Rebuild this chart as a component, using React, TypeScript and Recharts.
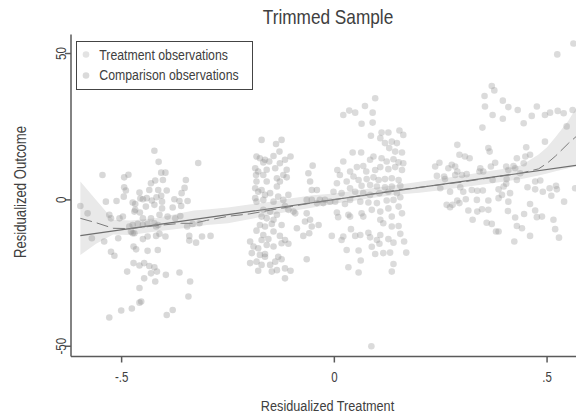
import React from 'react';
import { ComposedChart, Scatter, Line, Area, XAxis, YAxis, Legend } from 'recharts';

const chartTitle = 'Trimmed Sample';
const xTitle = 'Residualized Treatment';
const yTitle = 'Residualized Outcome';
const seriesNames = ['Treatment observations', 'Comparison observations'];
const xTicks = [-0.5, 0, 0.5];
const xTickLabels = ['-.5', '0', '.5'];
const yTicks = [-50, 0, 50];
const yTickLabels = ['-50', '0', '50'];

// Comparison observations [x, y]
const comparisonPoints: [number, number][] = [
  [-0.423, 16.8], [-0.413, 13.0], [-0.320, 12.6], [-0.545, 8.5], [-0.494, 7.7], [-0.484, 8.6], [-0.407, 9.3], [-0.397, 9.3],
  [-0.349, 6.8], [-0.431, 5.7], [-0.421, 6.6], [-0.403, 6.8], [-0.494, 4.3], [-0.490, 3.2], [-0.435, 3.4], [-0.414, 3.4],
  [-0.394, 3.2], [-0.458, 2.5], [-0.495, 1.1], [-0.359, 2.3], [-0.352, 4.1], [-0.537, -0.6], [-0.512, -0.4], [-0.474, -0.9],
  [-0.468, -1.4], [-0.456, 0.5], [-0.450, 0.2], [-0.441, 0.6], [-0.429, -0.2], [-0.418, 0.9], [-0.407, 1.4], [-0.405, -0.6],
  [-0.376, 0.2], [-0.364, -0.4], [-0.345, -0.4], [-0.468, -3.4], [-0.443, -2.3], [-0.423, -1.7], [-0.405, -2.9], [-0.380, -2.6],
  [-0.360, -2.1], [-0.597, -2.1], [-0.580, -4.6], [-0.529, -5.1], [-0.525, -6.3], [-0.505, -6.3], [-0.497, -5.7], [-0.470, -4.0],
  [-0.457, -4.3], [-0.450, -6.3], [-0.431, -6.3], [-0.411, -5.1], [-0.392, -5.7], [-0.374, -6.3], [-0.362, -5.5], [-0.474, -8.6],
  [-0.462, -8.2], [-0.450, -8.6], [-0.439, -8.2], [-0.423, -8.0], [-0.482, -9.1], [-0.478, -10.8], [-0.470, -11.4], [-0.419, -9.1],
  [-0.414, -8.6], [-0.346, -9.1], [-0.333, -8.2], [-0.317, -8.0], [-0.570, -13.1], [-0.541, -14.2], [-0.508, -13.1], [-0.474, -11.4],
  [-0.450, -13.4], [-0.439, -12.5], [-0.419, -12.3], [-0.411, -11.6], [-0.397, -12.5], [-0.341, -12.3], [-0.341, -13.9], [-0.325, -14.6],
  [-0.311, -12.5], [-0.291, -12.3], [-0.472, -15.9], [-0.466, -16.9], [-0.439, -17.4], [-0.415, -17.1], [-0.525, -17.7], [-0.517, -19.1],
  [-0.472, -21.6], [-0.458, -22.4], [-0.447, -21.6], [-0.435, -22.6], [-0.423, -23.0], [-0.417, -24.5], [-0.431, -25.1], [-0.487, -24.5],
  [-0.396, -25.6], [-0.364, -24.8], [-0.447, -26.8], [-0.421, -27.9], [-0.339, -27.9], [-0.458, -30.1], [-0.343, -33.0], [-0.458, -35.1],
  [-0.454, -34.7], [-0.476, -37.1], [-0.501, -37.8], [-0.529, -40.2], [-0.394, -39.3], [-0.380, -37.6],
  [-0.171, 20.5], [-0.137, 19.1], [-0.124, 20.5], [-0.129, 16.5], [-0.143, 15.0], [-0.183, 14.8], [-0.175, 14.2], [-0.163, 13.7],
  [-0.153, 13.1], [-0.167, 12.8], [-0.186, 10.8], [-0.179, 9.7], [-0.159, 10.3], [-0.139, 10.8], [-0.128, 12.5], [-0.116, 13.7],
  [-0.103, 14.8], [-0.112, 10.3], [-0.120, 8.5], [-0.135, 7.4], [-0.167, 8.5], [-0.184, 8.5], [-0.183, 6.3], [-0.159, 6.3],
  [-0.128, 6.3], [-0.112, 7.7], [-0.186, 4.0], [-0.179, 2.8], [-0.171, 3.4], [-0.163, 1.7], [-0.151, 2.3], [-0.135, 4.6],
  [-0.132, 1.1], [-0.120, 0.0], [-0.108, 1.7], [-0.186, 0.6], [-0.183, -0.6], [-0.167, 0.0], [-0.143, -0.6], [-0.116, -2.1],
  [-0.108, -3.4], [-0.096, -4.0], [-0.167, -3.4], [-0.151, -4.0], [-0.135, -5.1], [-0.171, -5.7], [-0.159, -6.3], [-0.143, -6.8],
  [-0.175, -8.6], [-0.163, -9.1], [-0.147, -8.2], [-0.124, -8.6], [-0.183, -10.5], [-0.167, -12.0], [-0.143, -10.8], [-0.171, -13.7],
  [-0.155, -13.4], [-0.128, -12.3], [-0.108, -15.0], [-0.116, -13.7], [-0.198, -14.2], [-0.190, -15.9], [-0.179, -16.5], [-0.159, -15.4],
  [-0.143, -15.9], [-0.124, -14.8], [-0.194, -18.2], [-0.175, -18.8], [-0.163, -19.4], [-0.132, -19.4], [-0.198, -21.6], [-0.183, -21.1],
  [-0.171, -22.2], [-0.151, -22.2], [-0.139, -21.1], [-0.124, -20.3], [-0.179, -24.2], [-0.147, -24.5], [-0.116, -23.4], [-0.103, -24.2],
  [-0.116, -26.8], [-0.135, -24.0], [-0.163, -18.5],
  [-0.061, 9.1], [-0.051, 11.7], [-0.057, 6.3], [-0.053, 3.4], [-0.041, 3.4], [-0.065, 0.0], [-0.053, 0.0], [-0.041, -1.1],
  [-0.034, 0.0], [-0.022, 0.0], [-0.010, -0.6], [-0.065, -4.6], [-0.057, -6.8], [-0.069, -7.4], [-0.053, -9.1], [-0.037, -8.6],
  [-0.088, -9.7], [-0.073, -12.3], [-0.059, -11.4], [-0.065, -20.3], [-0.026, -1.1], [-0.092, -4.6],
];

// Treatment observations [x, y]
const treatmentPoints: [number, number][] = [
  [0.096, 34.7], [0.021, 29.0], [0.035, 30.5], [0.049, 29.8], [0.072, 32.1], [0.090, 29.8], [0.064, 26.0], [0.090, 26.4],
  [0.086, 21.9], [0.111, 23.0], [0.127, 23.0], [0.153, 23.7], [0.162, 22.2], [0.108, 21.1], [0.119, 19.4], [0.135, 19.9],
  [0.147, 19.4], [0.129, 17.7], [0.143, 16.5], [0.159, 16.2], [0.043, 16.2], [0.063, 16.2], [0.021, 13.1], [0.084, 13.7],
  [0.092, 14.8], [0.111, 14.2], [0.123, 13.1], [0.139, 13.9], [0.151, 12.8], [0.162, 12.5], [0.053, 11.2], [0.068, 11.6],
  [0.007, 10.2], [0.013, 8.5], [0.037, 9.7], [0.045, 8.0], [0.075, 9.7], [0.096, 10.2], [0.108, 11.2], [0.127, 10.5],
  [0.143, 11.2], [0.159, 10.2], [0.057, 6.8], [0.076, 7.1], [0.092, 7.7], [0.104, 6.8], [0.119, 7.1], [0.135, 7.4],
  [0.151, 6.8], [0.006, 5.7], [0.029, 6.3], [0.037, 4.0], [0.064, 4.8], [0.084, 5.1], [0.100, 4.6], [0.119, 4.3],
  [0.135, 4.6], [0.155, 4.8], [-0.002, 2.8], [0.017, 2.3], [0.049, 2.8], [0.068, 2.3], [0.084, 1.7], [0.106, 2.3],
  [0.127, 2.8], [0.147, 2.3], [0.002, -0.6], [0.025, -1.4], [0.037, 0.0], [0.061, -0.6], [0.080, -0.9], [0.100, -1.1],
  [0.123, -0.2], [0.139, 0.0], [0.155, 0.9], [0.006, -4.3], [0.033, -5.1], [0.064, -4.6], [0.088, -3.4], [0.108, -4.0],
  [0.127, -2.9], [0.151, -2.3], [0.159, -4.6], [0.009, -5.9], [0.037, -5.7], [0.068, -5.7], [0.108, -6.8], [0.135, -5.7],
  [0.115, -8.0], [0.135, -9.1], [0.151, -8.9], [0.155, -11.6], [0.039, -10.0], [0.080, -11.2], [0.108, -12.0], [-0.006, -12.3],
  [0.021, -12.5], [0.049, -12.3], [0.061, -12.0], [0.084, -12.8], [0.100, -13.7], [0.106, -15.0], [0.127, -13.4], [0.139, -14.6],
  [0.164, -14.2], [0.017, -13.7], [0.029, -17.1], [0.057, -17.3], [0.088, -16.0], [0.096, -18.5], [0.115, -18.2], [0.131, -18.0],
  [0.169, -18.0], [0.033, -23.0], [0.057, -24.8], [0.062, -20.7], [0.135, -24.5], [0.139, -21.9], [0.087, -50.0],
  [0.370, 38.9], [0.376, 37.4], [0.353, 35.5], [0.396, 33.9], [0.354, 31.9], [0.409, 31.7], [0.431, 30.7], [0.476, 31.9],
  [0.372, 29.0], [0.396, 27.7], [0.464, 28.7], [0.495, 29.0], [0.507, 29.8], [0.525, 30.4], [0.539, 29.6], [0.560, 30.7],
  [0.348, 24.7], [0.445, 26.2], [0.546, 25.1], [0.289, 18.8], [0.362, 17.7], [0.365, 16.5], [0.495, 19.9], [0.451, 18.0],
  [0.294, 15.4], [0.307, 14.8], [0.318, 14.2], [0.378, 12.7], [0.429, 14.2], [0.449, 14.8], [0.460, 15.4], [0.247, 12.7],
  [0.237, 11.4], [0.268, 10.8], [0.276, 12.0], [0.284, 11.4], [0.289, 9.7], [0.343, 10.8], [0.368, 11.4], [0.404, 11.4],
  [0.421, 11.6], [0.445, 12.5], [0.241, 8.2], [0.258, 8.0], [0.284, 8.5], [0.300, 8.5], [0.311, 8.8], [0.341, 9.7],
  [0.350, 9.7], [0.409, 10.2], [0.425, 10.8], [0.437, 9.1], [0.260, 7.1], [0.372, 6.8], [0.405, 7.1], [0.429, 6.8],
  [0.472, 6.3], [0.484, 6.6], [0.296, 4.3], [0.303, 2.8], [0.323, 3.4], [0.336, 3.1], [0.349, 3.2], [0.386, 3.6],
  [0.398, 4.6], [0.404, 5.5], [0.249, 4.0], [0.272, 2.8], [0.454, 4.3], [0.472, 3.6], [0.490, 2.8], [0.506, 4.0],
  [0.521, 4.8], [0.523, 3.6], [0.566, 4.0], [0.289, -0.2], [0.309, 0.2], [0.335, 0.0], [0.362, -0.2], [0.386, 0.6],
  [0.394, 1.7], [0.413, 2.3], [0.264, -1.7], [0.272, -2.5], [0.278, -1.7], [0.294, -1.1], [0.315, -3.6], [0.336, -4.0],
  [0.347, -3.2], [0.362, -3.4], [0.408, -3.8], [0.409, -0.6], [0.460, -1.4], [0.472, -3.6], [0.510, 1.4], [0.540, -0.6],
  [0.325, -6.8], [0.358, -7.8], [0.370, -8.2], [0.386, -10.8], [0.380, -10.8], [0.425, -6.0], [0.429, -8.9], [0.441, -9.7],
  [0.446, -4.8], [0.476, -5.9], [0.488, -5.7], [0.515, -6.8], [0.519, -10.0], [0.460, -12.3], [0.423, -14.2], [0.528, -12.9],
  [0.524, 49.7], [0.562, 53.4],
];

// Local polynomial (dashed) and its confidence band
const curveX = [-0.597, -0.56, -0.52, -0.48, -0.42, -0.36, -0.33, -0.3, -0.25, -0.2, -0.15, -0.1, -0.05, 0, 0.05, 0.1, 0.15, 0.2, 0.25, 0.3, 0.35, 0.4, 0.44, 0.48, 0.5, 0.52, 0.55, 0.568];
const lowessY = [-6.3, -7.8, -9.7, -9.8, -8.8, -8.0, -8.0, -7.0, -5.6, -4.8, -3.5, -2.2, -1.0, 0.1, 1.2, 2.3, 3.4, 4.3, 5.2, 6.1, 7.2, 8.3, 9.2, 10.6, 12.5, 15.0, 19.3, 21.6];
const bandLow = [-18.8, -15.0, -11.8, -12.0, -10.8, -9.8, -9.3, -8.6, -8.0, -6.6, -5.2, -3.8, -2.6, -1.3, -0.2, 0.9, 1.8, 2.4, 3.3, 4.3, 5.3, 6.3, 7.1, 8.3, 9.0, 9.8, 10.8, 11.4];
const bandHigh = [6.3, 0.0, -6.8, -7.0, -6.3, -4.5, -3.6, -3.3, -2.6, -1.6, -0.6, 0.6, 1.6, 2.2, 3.2, 4.2, 5.2, 6.2, 7.2, 8.3, 9.5, 10.6, 11.8, 15.5, 18.0, 21.5, 27.0, 31.3];

// Linear fit endpoints
const fitX = [-0.597, 0.568];
const fitY = [-12.2, 11.8];

const curveRows = curveX.map((x, i) => {
  const fi = fitX.indexOf(x);
  return {
    x,
    lowess: lowessY[i],
    band: [bandLow[i], bandHigh[i]],
    fit: fi >= 0 ? fitY[fi] : undefined,
  };
});
const comparisonData = comparisonPoints.map(([x, y]) => ({ x, y }));
const treatmentData = treatmentPoints.map(([x, y]) => ({ x, y }));

const FONT = "'Liberation Sans', Arial, Helvetica, sans-serif";
const NARROW = 0.82;
const TEXT = '#404040';
const AXIS = '#5a5a5a';
const X_DOMAIN: [number, number] = [-0.619, 0.568];
const Y_DOMAIN: [number, number] = [-53.5, 56.5];

const NText = ({ x, y, size, rotate = 0, anchor = 'middle', children }: any) => (
  <text
    transform={`translate(${x},${y}) rotate(${rotate}) scale(${NARROW},1)`}
    textAnchor={anchor}
    fontSize={size}
    fontFamily={FONT}
    fill={TEXT}
  >
    {children}
  </text>
);

const XTick = (props: any) => {
  const { x, y, payload } = props;
  const i = xTicks.indexOf(payload.value);
  return <NText x={x} y={y + 17} size={14}>{i >= 0 ? xTickLabels[i] : payload.value}</NText>;
};

const YTick = (props: any) => {
  const { x, y, payload } = props;
  const i = yTicks.indexOf(payload.value);
  return <NText x={x + 3} y={y} size={14} rotate={-90}>{i >= 0 ? yTickLabels[i] : payload.value}</NText>;
};

const XTitle = () => <NText x={327.5} y={411} size={15.5}>{xTitle}</NText>;
const YTitle = () => <NText x={25.5} y={192} size={16} rotate={-90}>{yTitle}</NText>;

const dotShape = (fill: string) => (props: any) => (
  <circle cx={props.cx} cy={props.cy} r={3.3} fill={fill} fillOpacity={0.34} />
);

const LegendBox = () => (
  <svg width={177} height={49} style={{ display: 'block' }}>
    <rect x={0.5} y={0.5} width={176} height={48} fill="#fff" stroke="#444" strokeWidth={1} />
    <circle cx={10} cy={13.5} r={3.3} fill="#e3e3e3" />
    <circle cx={10} cy={34.5} r={3.3} fill="#dadada" />
    <NText x={23.3} y={18.7} size={15} anchor="start">{seriesNames[0]}</NText>
    <NText x={23.3} y={38.8} size={15} anchor="start">{seriesNames[1]}</NText>
  </svg>
);

export default function App() {
  const axisStyle = { stroke: AXIS, strokeWidth: 1.5 };
  return (
    <div style={{ position: 'absolute', left: 0, top: 0, width: 576, height: 414, background: '#fff', overflow: 'hidden' }}>
      <div
        style={{
          position: 'absolute',
          left: 328,
          top: 6.2,
          fontFamily: FONT,
          fontSize: 21,
          lineHeight: '21px',
          color: TEXT,
          whiteSpace: 'nowrap',
          transform: `translateX(-50%) scaleX(${NARROW})`,
          zIndex: 2,
        }}
      >
        {chartTitle}
      </div>
      <ComposedChart width={576} height={414} data={curveRows} margin={{ top: 34.5, right: 0, bottom: 27.5, left: 0 }}>
        <XAxis
          dataKey="x"
          type="number"
          domain={X_DOMAIN}
          allowDataOverflow
          ticks={xTicks}
          tick={<XTick />}
          tickSize={6}
          height={30}
          axisLine={axisStyle}
          tickLine={axisStyle}
          label={<XTitle />}
        />
        <XAxis
          xAxisId="top"
          orientation="top"
          dataKey="x"
          type="number"
          domain={X_DOMAIN}
          allowDataOverflow
          height={0}
          tick={false}
          tickLine={false}
          axisLine={axisStyle}
        />
        <YAxis
          type="number"
          domain={Y_DOMAIN}
          allowDataOverflow
          ticks={yTicks}
          tick={<YTick />}
          tickSize={6}
          width={71}
          axisLine={axisStyle}
          tickLine={axisStyle}
          label={<YTitle />}
        />
        <Area dataKey="band" stroke="none" fill="#e9e9e9" fillOpacity={1} dot={false} activeDot={false} isAnimationActive={false} />
        <Scatter name={seriesNames[1]} data={comparisonData} dataKey="y" shape={dotShape('#8c8c8c')} isAnimationActive={false} />
        <Scatter name={seriesNames[0]} data={treatmentData} dataKey="y" shape={dotShape('#959595')} isAnimationActive={false} />
        <Line dataKey="fit" connectNulls stroke="#6e6e6e" strokeWidth={1.2} dot={false} activeDot={false} isAnimationActive={false} />
        <Line dataKey="lowess" stroke="#7a7a7a" strokeWidth={1} strokeDasharray="12 5" dot={false} activeDot={false} isAnimationActive={false} />
        <Legend
          layout="horizontal"
          verticalAlign="middle"
          align="center"
          wrapperStyle={{ position: 'absolute', left: 76, top: 40.5, width: 177, height: 49, margin: 0, padding: 0 }}
          content={() => <LegendBox />}
        />
      </ComposedChart>
    </div>
  );
}
